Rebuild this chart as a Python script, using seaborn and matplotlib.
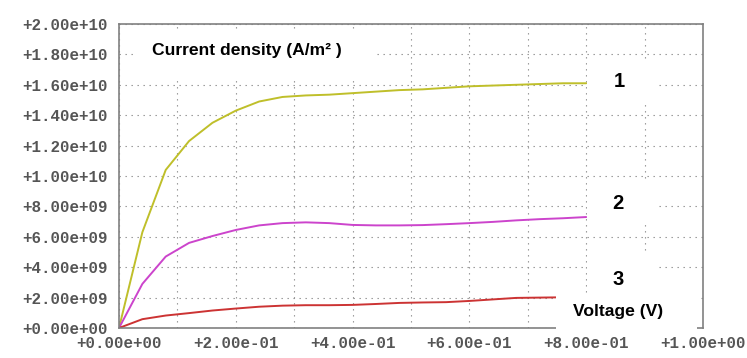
import numpy as np
import pandas as pd
import matplotlib
matplotlib.use("Agg")
import matplotlib.pyplot as plt
from matplotlib.ticker import FuncFormatter, MultipleLocator
from matplotlib.patches import Rectangle
import seaborn as sns

# voltage (V) and current density (A/m^2) for the three curves
voltage = [0.00, 0.04, 0.08, 0.12, 0.16, 0.20, 0.24, 0.28, 0.32, 0.36, 0.40,
           0.44, 0.48, 0.52, 0.56, 0.60, 0.64, 0.68, 0.72, 0.76, 0.80]
curve1 = [0, 6.3e9, 1.04e10, 1.23e10, 1.35e10, 1.43e10, 1.49e10, 1.52e10, 1.53e10,
          1.535e10, 1.545e10, 1.555e10, 1.565e10, 1.57e10, 1.58e10, 1.59e10,
          1.595e10, 1.60e10, 1.605e10, 1.61e10, 1.61e10]
curve2 = [0, 2.9e9, 4.7e9, 5.6e9, 6.05e9, 6.45e9, 6.75e9, 6.9e9, 6.95e9, 6.9e9,
          6.78e9, 6.75e9, 6.75e9, 6.77e9, 6.83e9, 6.9e9, 6.98e9, 7.08e9, 7.16e9,
          7.22e9, 7.3e9]
curve3 = [0, 5.8e8, 8.2e8, 9.8e8, 1.15e9, 1.28e9, 1.4e9, 1.47e9, 1.5e9, 1.5e9,
          1.52e9, 1.58e9, 1.65e9, 1.68e9, 1.7e9, 1.78e9, 1.88e9, 1.98e9, 2.0e9,
          2.02e9, 2.05e9]
curve_names = ["1", "2", "3"]
curve_colors = ["#bfbf2a", "#cc44cc", "#cc3333"]

df = pd.DataFrame({
    "V": voltage * 3,
    "J": curve1 + curve2 + curve3,
    "curve": [n for n in curve_names for _ in voltage],
})

sns.set_style("white")

fig = plt.figure(figsize=(7.47, 3.58), dpi=100)
ax = fig.add_axes([0.1593, 0.0838, 0.7818, 0.8492])

sns.lineplot(data=df, x="V", y="J", hue="curve", palette=curve_colors,
             linewidth=1.4, legend=False, ax=ax, zorder=2)

ax.set_xlim(0, 1.0)
ax.set_ylim(0, 2e10)
ax.xaxis.set_major_locator(MultipleLocator(0.2))
ax.xaxis.set_minor_locator(MultipleLocator(0.1))
ax.yaxis.set_major_locator(MultipleLocator(2e9))
fmt = FuncFormatter(lambda v, p: f"{v:+.2e}")
ax.xaxis.set_major_formatter(fmt)
ax.yaxis.set_major_formatter(fmt)
ax.set_xlabel("")
ax.set_ylabel("")

ax.grid(True, which="both", color="#8c8c8c", linewidth=0.8,
        linestyle=(0, (1.2, 4.2)))
ax.set_axisbelow(True)
ax.tick_params(which="both", length=0)
ax.tick_params(axis="x", pad=6)
ax.tick_params(axis="y", pad=8)
for lab in ax.get_xticklabels() + ax.get_yticklabels():
    lab.set_fontfamily("Liberation Mono")
    lab.set_fontweight("bold")
    lab.set_fontsize(11.4)
    lab.set_color("#555555")

for s in ax.spines.values():
    s.set_color("#808080")
    s.set_linewidth(1.2)

# white backgrounds behind the text labels
masks = [(0.024, 0.816, 0.418, 0.158), (0.801, 0.740, 0.120, 0.142),
         (0.801, 0.345, 0.120, 0.142), (0.801, 0.112, 0.120, 0.138),
         (0.748, -0.025, 0.242, 0.137)]
for (mx, my, mw, mh) in masks:
    ax.add_patch(Rectangle((mx, my), mw, mh, transform=ax.transAxes,
                           facecolor="white", edgecolor="none", zorder=3,
                           clip_on=False))

font = ["Liberation Sans", "DejaVu Sans"]
ax.text(0.057, 0.913, "Current density (A/m² )", transform=ax.transAxes,
        fontsize=12.6, fontweight="bold", family=font, va="center", ha="left",
        color="black", zorder=4)
label_pos = [(0.856, 0.81), (0.854, 0.41), (0.854, 0.158)]
for name, (tx, ty) in zip(curve_names, label_pos):
    ax.text(tx, ty, name, transform=ax.transAxes, fontsize=14.5,
            fontweight="bold", family=font, va="center", ha="center",
            color="black", zorder=4)
ax.text(0.777, 0.053, "Voltage (V)", transform=ax.transAxes, fontsize=12.6,
        fontweight="bold", family=font, va="center", ha="left",
        color="black", zorder=4)

fig.savefig("out.png", dpi=100)
